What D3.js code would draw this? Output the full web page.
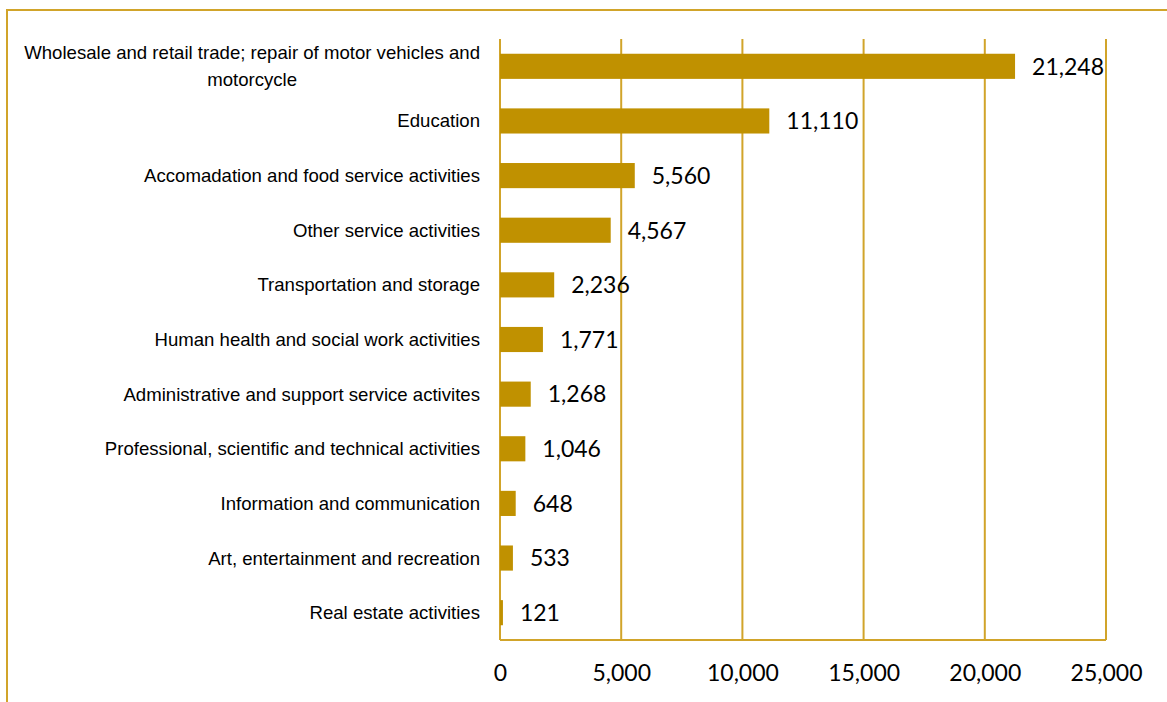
<!DOCTYPE html>
<html>
<head>
<meta charset="utf-8">
<script src="https://cdn.jsdelivr.net/npm/d3@7"></script>
<style>
	body { margin: 0; background: #fff; }
	svg { display: block; }
</style>
</head>
<body>
<div id="chartDiv"></div>
<script>
;(function() {

	// data
	var categories = [
		["Wholesale and retail trade; repair of motor vehicles and", "motorcycle"],
		["Education"],
		["Accomadation and food service activities"],
		["Other service activities"],
		["Transportation and storage"],
		["Human health and social work activities"],
		["Administrative and support service activites"],
		["Professional, scientific and technical activities"],
		["Information and communication"],
		["Art, entertainment and recreation"],
		["Real estate activities"]
	];
	var values = [21248, 11110, 5560, 4567, 2236, 1771, 1268, 1046, 648, 533, 121];
	var xTicks = [0, 5000, 10000, 15000, 20000, 25000];

	var width = 1167;
	var height = 702;
	var margin = { top: 39, right: 61, bottom: 62, left: 500 };
	var chartWidth = width - margin.left - margin.right;
	var chartHeight = height - margin.top - margin.bottom;

	var barColor = "#c09100";
	var lineColor = "#d1a42a";
	var fmt = d3.format(",");

	var svg = d3.select("#chartDiv").append("svg")
		.attr("width", width)
		.attr("height", height);

	// outer frame (runs off the right and bottom edges)
	svg.append("rect")
		.attr("x", 7)
		.attr("y", 10)
		.attr("width", width + 20)
		.attr("height", height + 20)
		.attr("fill", "none")
		.attr("stroke", lineColor)
		.attr("stroke-width", 2);

	var plot = svg.append("g")
		.attr("transform", "translate(" + margin.left + "," + margin.top + ")");

	var idx = d3.range(values.length);

	var xScale = d3.scaleLinear()
		.domain([0, 25000])
		.range([0, chartWidth]);

	var yScale = d3.scaleBand()
		.domain(idx)
		.range([0, chartHeight])
		.paddingInner(0.54)
		.paddingOuter(0.27);

	// vertical gridlines
	plot.selectAll(".grid")
		.data(xTicks)
		.enter().append("line")
			.attr("class", "grid")
			.attr("x1", function(d) { return xScale(d); })
			.attr("x2", function(d) { return xScale(d); })
			.attr("y1", 0)
			.attr("y2", chartHeight)
			.attr("stroke", lineColor)
			.attr("stroke-width", 2);

	// bottom axis line
	plot.append("line")
		.attr("x1", 0)
		.attr("x2", chartWidth)
		.attr("y1", chartHeight)
		.attr("y2", chartHeight)
		.attr("stroke", lineColor)
		.attr("stroke-width", 2);

	// x axis labels
	var xAxis = d3.axisBottom(xScale)
		.tickValues(xTicks)
		.tickFormat(fmt)
		.tickSize(0)
		.tickPadding(25);

	var xAxisG = plot.append("g")
		.attr("transform", "translate(0," + chartHeight + ")")
		.call(xAxis);
	xAxisG.select(".domain").remove();
	xAxisG.selectAll("text")
		.style("font-family", "Lato, 'Open Sans', sans-serif")
		.style("font-size", "23px")
		.attr("fill", "#000");

	// bars
	plot.selectAll(".bar")
		.data(idx)
		.enter().append("rect")
			.attr("class", "bar")
			.attr("x", xScale(0))
			.attr("y", function(i) { return yScale(i); })
			.attr("width", function(i) { return xScale(values[i]); })
			.attr("height", yScale.bandwidth())
			.attr("fill", barColor);

	// value labels
	plot.selectAll(".val")
		.data(idx)
		.enter().append("text")
			.attr("class", "val")
			.attr("x", function(i) { return xScale(values[i]) + 17; })
			.attr("y", function(i) { return yScale(i) + yScale.bandwidth() / 2; })
			.attr("dy", "0.36em")
			.style("font-family", "Lato, 'Open Sans', sans-serif")
			.style("font-size", "23px")
			.attr("fill", "#000")
			.text(function(i) { return fmt(values[i]); });

	// category labels (multi-line block is right aligned, lines centered in it)
	var labelRight = -20;
	var lineH = 27;
	idx.forEach(function(i) {
		var lines = categories[i];
		var cy = yScale(i) + yScale.bandwidth() / 2;
		var g = plot.append("g").attr("class", "cat");
		var texts = g.selectAll("text")
			.data(lines)
			.enter().append("text")
				.attr("y", function(d, j) { return cy + (j - (lines.length - 1) / 2) * lineH; })
				.attr("dy", "0.35em")
				.style("font-family", "'Liberation Sans', Arial, sans-serif")
				.style("font-size", "18.6px")
				.attr("fill", "#000")
				.text(function(d) { return d; });
		var maxW = 0;
		texts.each(function() { maxW = Math.max(maxW, this.getComputedTextLength()); });
		texts.attr("text-anchor", "middle")
			.attr("x", labelRight - maxW / 2);
	});

})();
</script>
</body>
</html>
